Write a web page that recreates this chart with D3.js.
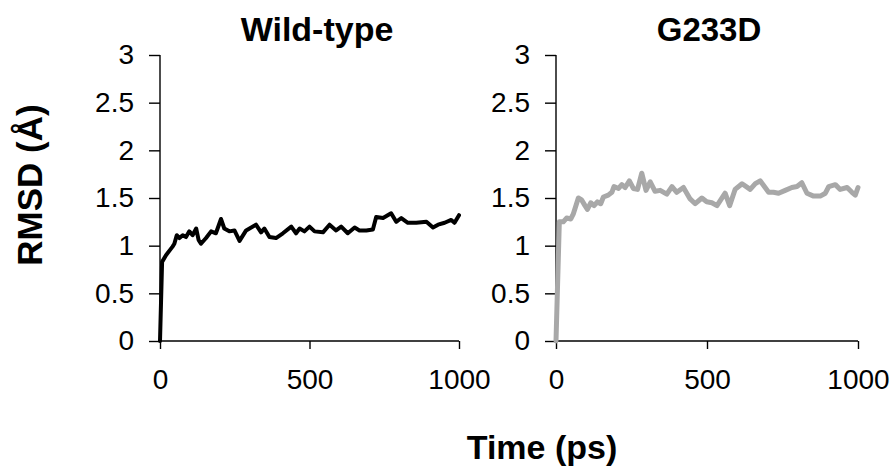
<!DOCTYPE html>
<html>
<head>
<meta charset="utf-8">
<script src="https://cdn.jsdelivr.net/npm/d3@7"></script>
<style>
  body { margin: 0; background: #fff; }
  text { font-family: "Liberation Sans", Arial, sans-serif; fill: #000; }
</style>
</head>
<body>
<svg id="chart" width="894" height="467"></svg>
<script>
// RMSD traces (time in ps, RMSD in Å)
const wtTime = [0, 7, 20, 42, 48, 56, 65, 76, 87, 98, 109, 121, 129, 137, 154, 171, 187, 204, 215, 232, 249, 266, 288, 321, 338, 349, 366, 388, 411, 439, 455, 467, 483, 500, 517, 545, 567, 589, 606, 628, 651, 667, 690, 712, 723, 746, 773, 790, 807, 829, 857, 891, 913, 930, 952, 974, 985, 1000];
const wtRmsd = [0, 0.83, 0.90, 0.99, 1.02, 1.11, 1.08, 1.11, 1.09, 1.15, 1.11, 1.18, 1.06, 1.02, 1.08, 1.15, 1.13, 1.28, 1.18, 1.15, 1.16, 1.05, 1.16, 1.22, 1.14, 1.18, 1.09, 1.08, 1.13, 1.20, 1.13, 1.18, 1.15, 1.20, 1.15, 1.14, 1.22, 1.16, 1.20, 1.13, 1.19, 1.16, 1.16, 1.17, 1.30, 1.29, 1.34, 1.25, 1.29, 1.24, 1.24, 1.25, 1.19, 1.22, 1.24, 1.27, 1.24, 1.32];

const mutTime = [0, 11, 24, 35, 49, 57, 74, 85, 96, 104, 115, 126, 137, 148, 157, 173, 185, 192, 207, 218, 229, 243, 256, 270, 284, 298, 312, 328, 345, 367, 384, 400, 422, 444, 461, 483, 499, 516, 533, 560, 575, 593, 616, 643, 660, 676, 704, 720, 737, 759, 781, 798, 814, 831, 853, 875, 892, 903, 925, 941, 964, 980, 991, 1000];
const mutRmsd = [0, 1.25, 1.25, 1.29, 1.28, 1.33, 1.50, 1.48, 1.42, 1.38, 1.45, 1.42, 1.46, 1.44, 1.51, 1.53, 1.56, 1.62, 1.60, 1.64, 1.61, 1.68, 1.60, 1.59, 1.76, 1.58, 1.67, 1.57, 1.58, 1.54, 1.62, 1.56, 1.61, 1.49, 1.44, 1.50, 1.46, 1.45, 1.42, 1.55, 1.42, 1.59, 1.65, 1.59, 1.65, 1.68, 1.56, 1.56, 1.55, 1.58, 1.61, 1.62, 1.66, 1.55, 1.52, 1.52, 1.55, 1.62, 1.64, 1.59, 1.61, 1.56, 1.53, 1.61];

const yTicks = [0, 0.5, 1, 1.5, 2, 2.5, 3];
const xTicks = [0, 500, 1000];

const panels = [
  { title: "Wild-type", time: wtTime, rmsd: wtRmsd, color: "#000000", width: 4, x0: 160, x1: 459, titleX: 317, titleSize: 34 },
  { title: "G233D", time: mutTime, rmsd: mutRmsd, color: "#a8a8a8", width: 5, x0: 556, x1: 858, titleX: 709, titleSize: 33 }
];

const svg = d3.select("#chart");
const yScale = d3.scaleLinear().domain([0, 3]).range([341, 55]);

panels.forEach(p => {
  const xScale = d3.scaleLinear().domain([0, 1000]).range([p.x0, p.x1]);

  // y axis
  const gy = svg.append("g")
    .attr("transform", `translate(${p.x0},0)`)
    .call(d3.axisLeft(yScale).tickValues(yTicks).tickFormat(d3.format("")).tickSize(11).tickPadding(15));
  gy.select(".domain").remove();
  gy.append("line").attr("x1", 0).attr("x2", 0).attr("y1", yScale(3)).attr("y2", yScale(0))
    .attr("stroke", "#000").attr("stroke-width", 1.4);

  // x axis
  const gx = svg.append("g")
    .attr("transform", `translate(0,${yScale(0)})`)
    .call(d3.axisBottom(xScale).tickValues(xTicks).tickFormat(d3.format("d")).tickSize(8).tickPadding(20));
  gx.select(".domain").remove();
  gx.append("line").attr("x1", p.x0).attr("x2", p.x1).attr("y1", 0).attr("y2", 0)
    .attr("stroke", "#000").attr("stroke-width", 1.4);

  [gx, gy].forEach(g => {
    g.selectAll(".tick line").attr("stroke", "#000").attr("stroke-width", 1.4);
    g.selectAll(".tick text").attr("font-size", 28).attr("font-family", "Liberation Sans, Arial, sans-serif");
  });

  const line = d3.line()
    .x((d, i) => xScale(p.time[i]))
    .y(d => yScale(d));

  svg.append("path")
    .datum(p.rmsd)
    .attr("d", line)
    .attr("fill", "none")
    .attr("stroke", p.color)
    .attr("stroke-width", p.width)
    .attr("stroke-linejoin", "round")
    .attr("stroke-linecap", "round");

  svg.append("text")
    .attr("x", p.titleX)
    .attr("y", 41)
    .attr("text-anchor", "middle")
    .attr("font-size", p.titleSize)
    .attr("font-weight", "bold")
    .text(p.title);
});

svg.append("text")
  .attr("x", 542)
  .attr("y", 459)
  .attr("text-anchor", "middle")
  .attr("font-size", 34)
  .attr("font-weight", "bold")
  .text("Time (ps)");

svg.append("text")
  .attr("transform", "translate(42,185) rotate(-90)")
  .attr("text-anchor", "middle")
  .attr("font-size", 35)
  .attr("font-weight", "bold")
  .text("RMSD (Å)");
</script>
</body>
</html>
